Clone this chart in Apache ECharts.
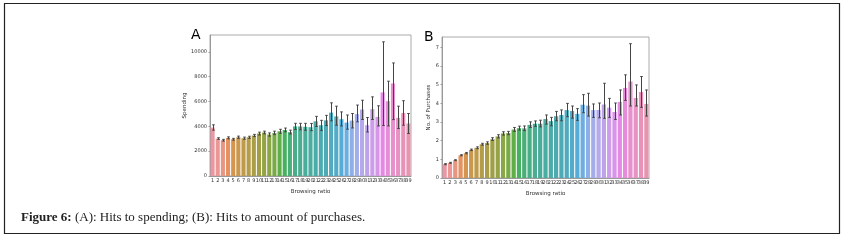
<!DOCTYPE html>
<html>
<head>
<meta charset="utf-8">
<script src="https://cdn.jsdelivr.net/npm/echarts@6/dist/echarts.min.js"></script>
<style>
    html, body { margin: 0; padding: 0; background: #fff; }
    #chart1 { width: 844px; height: 240px; }
</style>
</head>
<body>
<div id="chart1"></div>
<script>
var categories = [];
for (var c = 1; c <= 39; c++) categories.push(String(c));

// A: spending per browsing ratio (mean, ci low, ci high)
var spendMean = [3900, 3010, 2880, 3070, 2960, 3120, 3040, 3120, 3260, 3420, 3500, 3340, 3470, 3600, 3700, 3530, 3990, 3990, 3960, 3930,
    4400, 4090, 4480, 5100, 4800, 4570, 4300, 4460, 4980, 5350, 4090, 5380, 4760, 6730, 6020, 7450, 4680, 5070, 4230];
var spendLow = [3690, 2950, 2810, 2990, 2890, 3030, 2960, 3030, 3170, 3300, 3390, 3210, 3330, 3440, 3560, 3380, 3740, 3720, 3680, 3650,
    3990, 3670, 4060, 4440, 4090, 4030, 3770, 3870, 4360, 4550, 3540, 4550, 4030, 4070, 4030, 4540, 3820, 4090, 3420];
var spendHigh = [4120, 3080, 2950, 3150, 3030, 3210, 3130, 3200, 3350, 3530, 3610, 3470, 3610, 3760, 3860, 3690, 4240, 4240, 4240, 4230,
    4800, 4480, 4880, 5890, 5620, 5160, 4910, 5030, 5710, 6100, 4710, 6370, 5650, 10800, 7630, 9100, 5620, 6060, 5030];

// B: number of purchases per browsing ratio
var buyMean = [0.74, 0.81, 0.95, 1.22, 1.33, 1.51, 1.62, 1.81, 1.87, 2.08, 2.23, 2.39, 2.41, 2.60, 2.67, 2.66, 2.85, 2.91, 2.91, 3.16,
    3.05, 3.31, 3.38, 3.64, 3.59, 3.44, 3.93, 3.88, 3.64, 3.65, 3.94, 3.77, 3.54, 4.08, 4.83, 5.17, 4.29, 4.61, 3.97];
var buyLow = [0.71, 0.79, 0.93, 1.19, 1.30, 1.47, 1.57, 1.76, 1.81, 2.01, 2.15, 2.30, 2.32, 2.50, 2.57, 2.54, 2.71, 2.77, 2.74, 2.89,
    2.80, 3.07, 3.07, 3.29, 3.21, 3.09, 3.50, 3.32, 3.25, 3.23, 3.20, 3.25, 3.14, 3.38, 4.16, 3.86, 3.86, 3.79, 3.32];
var buyHigh = [0.77, 0.84, 0.98, 1.25, 1.37, 1.55, 1.67, 1.86, 1.94, 2.16, 2.32, 2.48, 2.50, 2.71, 2.78, 2.79, 3.01, 3.06, 3.10, 3.38,
    3.25, 3.57, 3.65, 4.00, 3.86, 3.72, 4.47, 4.54, 3.97, 4.02, 5.08, 4.27, 4.02, 4.72, 5.53, 7.20, 4.99, 5.44, 4.72];

var spendTicks = [0, 2000, 4000, 6000, 8000, 10000];
var buyTicks = [0, 1, 2, 3, 4, 5, 6, 7];

// seaborn husl palette (l=.7) with barplot saturation .75
var M = [[3.2406, -1.5372, -0.4986], [-0.9689, 1.8758, 0.0415], [0.0557, -0.2040, 1.0570]];
function maxChroma(L, H) {
    var hrad = H / 360 * 2 * Math.PI;
    var sinH = Math.sin(hrad), cosH = Math.cos(hrad);
    var sub1 = Math.pow(L + 16, 3) / 1560896;
    var sub2 = sub1 > 0.008856 ? sub1 : L / 903.3;
    var result = Infinity;
    M.forEach(function (row) {
        var top = (0.99915 * row[0] + 1.05122 * row[1] + 1.14460 * row[2]) * sub2;
        var rb = 0.86330 * row[2] - 0.17266 * row[1];
        var lb = 0.12949 * row[2] - 0.38848 * row[0];
        var bottom = (rb * sinH + lb * cosH) * sub2;
        [0, 1].forEach(function (t) {
            var C = L * (top - 1.05122 * t) / (bottom + 0.17266 * sinH * t);
            if (C > 0 && C < result) result = C;
        });
    });
    return result;
}
function huslToRgb(h, s, l) {
    var C = maxChroma(l, h) / 100 * s;
    var hr = h / 360 * 2 * Math.PI;
    var U = C * Math.cos(hr), V = C * Math.sin(hr);
    var Y = l > 8 ? Math.pow((l + 16) / 116, 3) : l / 903.3;
    var vu = U / (13 * l) + 0.19784, vv = V / (13 * l) + 0.46834;
    var X = -(9 * Y * vu) / ((vu - 4) * vv - vu * vv);
    var Z = (9 * Y - 15 * vv * Y - vv * X) / (3 * vv);
    return M.map(function (row) {
        var v = row[0] * X + row[1] * Y + row[2] * Z;
        v = v <= 0.0031308 ? 12.92 * v : 1.055 * Math.pow(v, 1 / 2.4) - 0.055;
        return Math.min(1, Math.max(0, v));
    });
}
function desat(rgb, prop) {
    var r = rgb[0], g = rgb[1], b = rgb[2];
    var mx = Math.max(r, g, b), mn = Math.min(r, g, b);
    var l = (mx + mn) / 2, h = 0, s = 0;
    if (mx !== mn) {
        s = l <= 0.5 ? (mx - mn) / (mx + mn) : (mx - mn) / (2 - mx - mn);
        var rc = (mx - r) / (mx - mn), gc = (mx - g) / (mx - mn), bc = (mx - b) / (mx - mn);
        if (r === mx) h = bc - gc; else if (g === mx) h = 2 + rc - bc; else h = 4 + gc - rc;
        h = ((h / 6) % 1 + 1) % 1;
    }
    return 'hsl(' + (h * 360).toFixed(1) + ',' + (s * prop * 100).toFixed(1) + '%,' + (l * 100).toFixed(1) + '%)';
}
var palette = categories.map(function (c, i) {
    var h = ((i / categories.length) + 0.01) % 1 * 359;
    return desat(huslToRgb(h, 0.9 * 99, 0.7 * 99), 0.75);
});

window.onload = function () { drawChart1(); };

function errorSeries(idx, low, high) {
    return {
        type: 'custom',
        xAxisIndex: idx,
        yAxisIndex: idx,
        z: 5,
        encode: { x: 0, y: [1, 2] },
        data: categories.map(function (c, i) { return [i, low[i], high[i]]; }),
        renderItem: function (params, api) {
            var p1 = api.coord([api.value(0), api.value(1)]);
            var p2 = api.coord([api.value(0), api.value(2)]);
            var x = Math.round(p1[0]) + 0.5, cap = 1.3;
            var st = { stroke: '#444', lineWidth: 1 };
            return {
                type: 'group',
                children: [
                    { type: 'line', shape: { x1: x, y1: p1[1], x2: x, y2: p2[1] }, style: st },
                    { type: 'line', shape: { x1: x - cap, y1: p1[1], x2: x + cap, y2: p1[1] }, style: st },
                    { type: 'line', shape: { x1: x - cap, y1: p2[1], x2: x + cap, y2: p2[1] }, style: st }
                ]
            };
        }
    };
}

function barSeries(idx, values) {
    return {
        type: 'bar',
        xAxisIndex: idx,
        yAxisIndex: idx,
        barCategoryGap: '20%',
        data: values.map(function (v, i) {
            return { value: v, itemStyle: { color: palette[i] } };
        })
    };
}

function xAxisCfg(idx) {
    return {
        type: 'category',
        gridIndex: idx,
        data: categories,
        name: 'Browsing ratio',
        nameLocation: 'middle',
        nameGap: 10,
        nameTextStyle: { fontFamily: 'DejaVu Sans', fontSize: 5.5, color: '#333' },
        axisLine: { lineStyle: { color: '#999', width: 1 } },
        axisTick: { alignWithLabel: true, length: 1.5, lineStyle: { color: '#999' } },
        axisLabel: { interval: 0, margin: 2.5, fontFamily: 'DejaVu Sans', fontSize: 5, color: '#333' }
    };
}

function yAxisCfg(idx, name, max, step, gap) {
    return {
        type: 'value',
        gridIndex: idx,
        min: 0,
        max: max,
        interval: step,
        name: name,
        nameLocation: 'middle',
        nameGap: gap,
        nameTextStyle: { fontFamily: 'DejaVu Sans', fontSize: 5.5, color: '#333' },
        axisLine: { show: true, lineStyle: { color: '#999', width: 1 } },
        axisTick: { show: true, length: 1.5, lineStyle: { color: '#999' } },
        splitLine: { show: false },
        axisLabel: {
            showMaxLabel: false, margin: 3, fontFamily: 'DejaVu Sans', fontSize: 5, color: '#333',
            formatter: function (v) { return String(v); }
        }
    };
}

function drawChart1() {
    var dom1 = document.getElementById("chart1");
    var myChart1 = echarts.init(dom1, null, { renderer: 'canvas' });
    var option = {
        animation: false,
        grid: [
            { left: 210, top: 35, width: 201, height: 141, show: true, borderColor: '#aaa', borderWidth: 1 },
            { left: 442, top: 37, width: 207, height: 141, show: true, borderColor: '#aaa', borderWidth: 1 }
        ],
        xAxis: [xAxisCfg(0), xAxisCfg(1)],
        yAxis: [
            yAxisCfg(0, 'Spending', 11350, spendTicks[1] - spendTicks[0], 22),
            yAxisCfg(1, 'No. of Purchases', 7.56, buyTicks[1] - buyTicks[0], 10)
        ],
        series: [
            barSeries(0, spendMean),
            errorSeries(0, spendLow, spendHigh),
            barSeries(1, buyMean),
            errorSeries(1, buyLow, buyHigh)
        ],
        graphic: [
            { type: 'rect', shape: { x: 4.5, y: 3.5, width: 835, height: 230 }, style: { fill: null, stroke: '#222', lineWidth: 1.2 } },
            { type: 'text', left: 191, top: 28, style: { text: 'A', font: '14px "DejaVu Sans"', fill: '#000' } },
            { type: 'text', left: 424, top: 30, style: { text: 'B', font: '14px "DejaVu Sans"', fill: '#000' } },
            {
                type: 'text', left: 21, top: 211,
                style: {
                    text: '{b|Figure 6:} (A): Hits to spending; (B): Hits to amount of purchases.',
                    font: '13px "Liberation Serif"', fill: '#222',
                    rich: { b: { font: 'bold 13px "Liberation Serif"', fill: '#222' } }
                }
            }
        ]
    };
    myChart1.setOption(option, true);
    window.onresize = myChart1.resize;
}
</script>
</body>
</html>
